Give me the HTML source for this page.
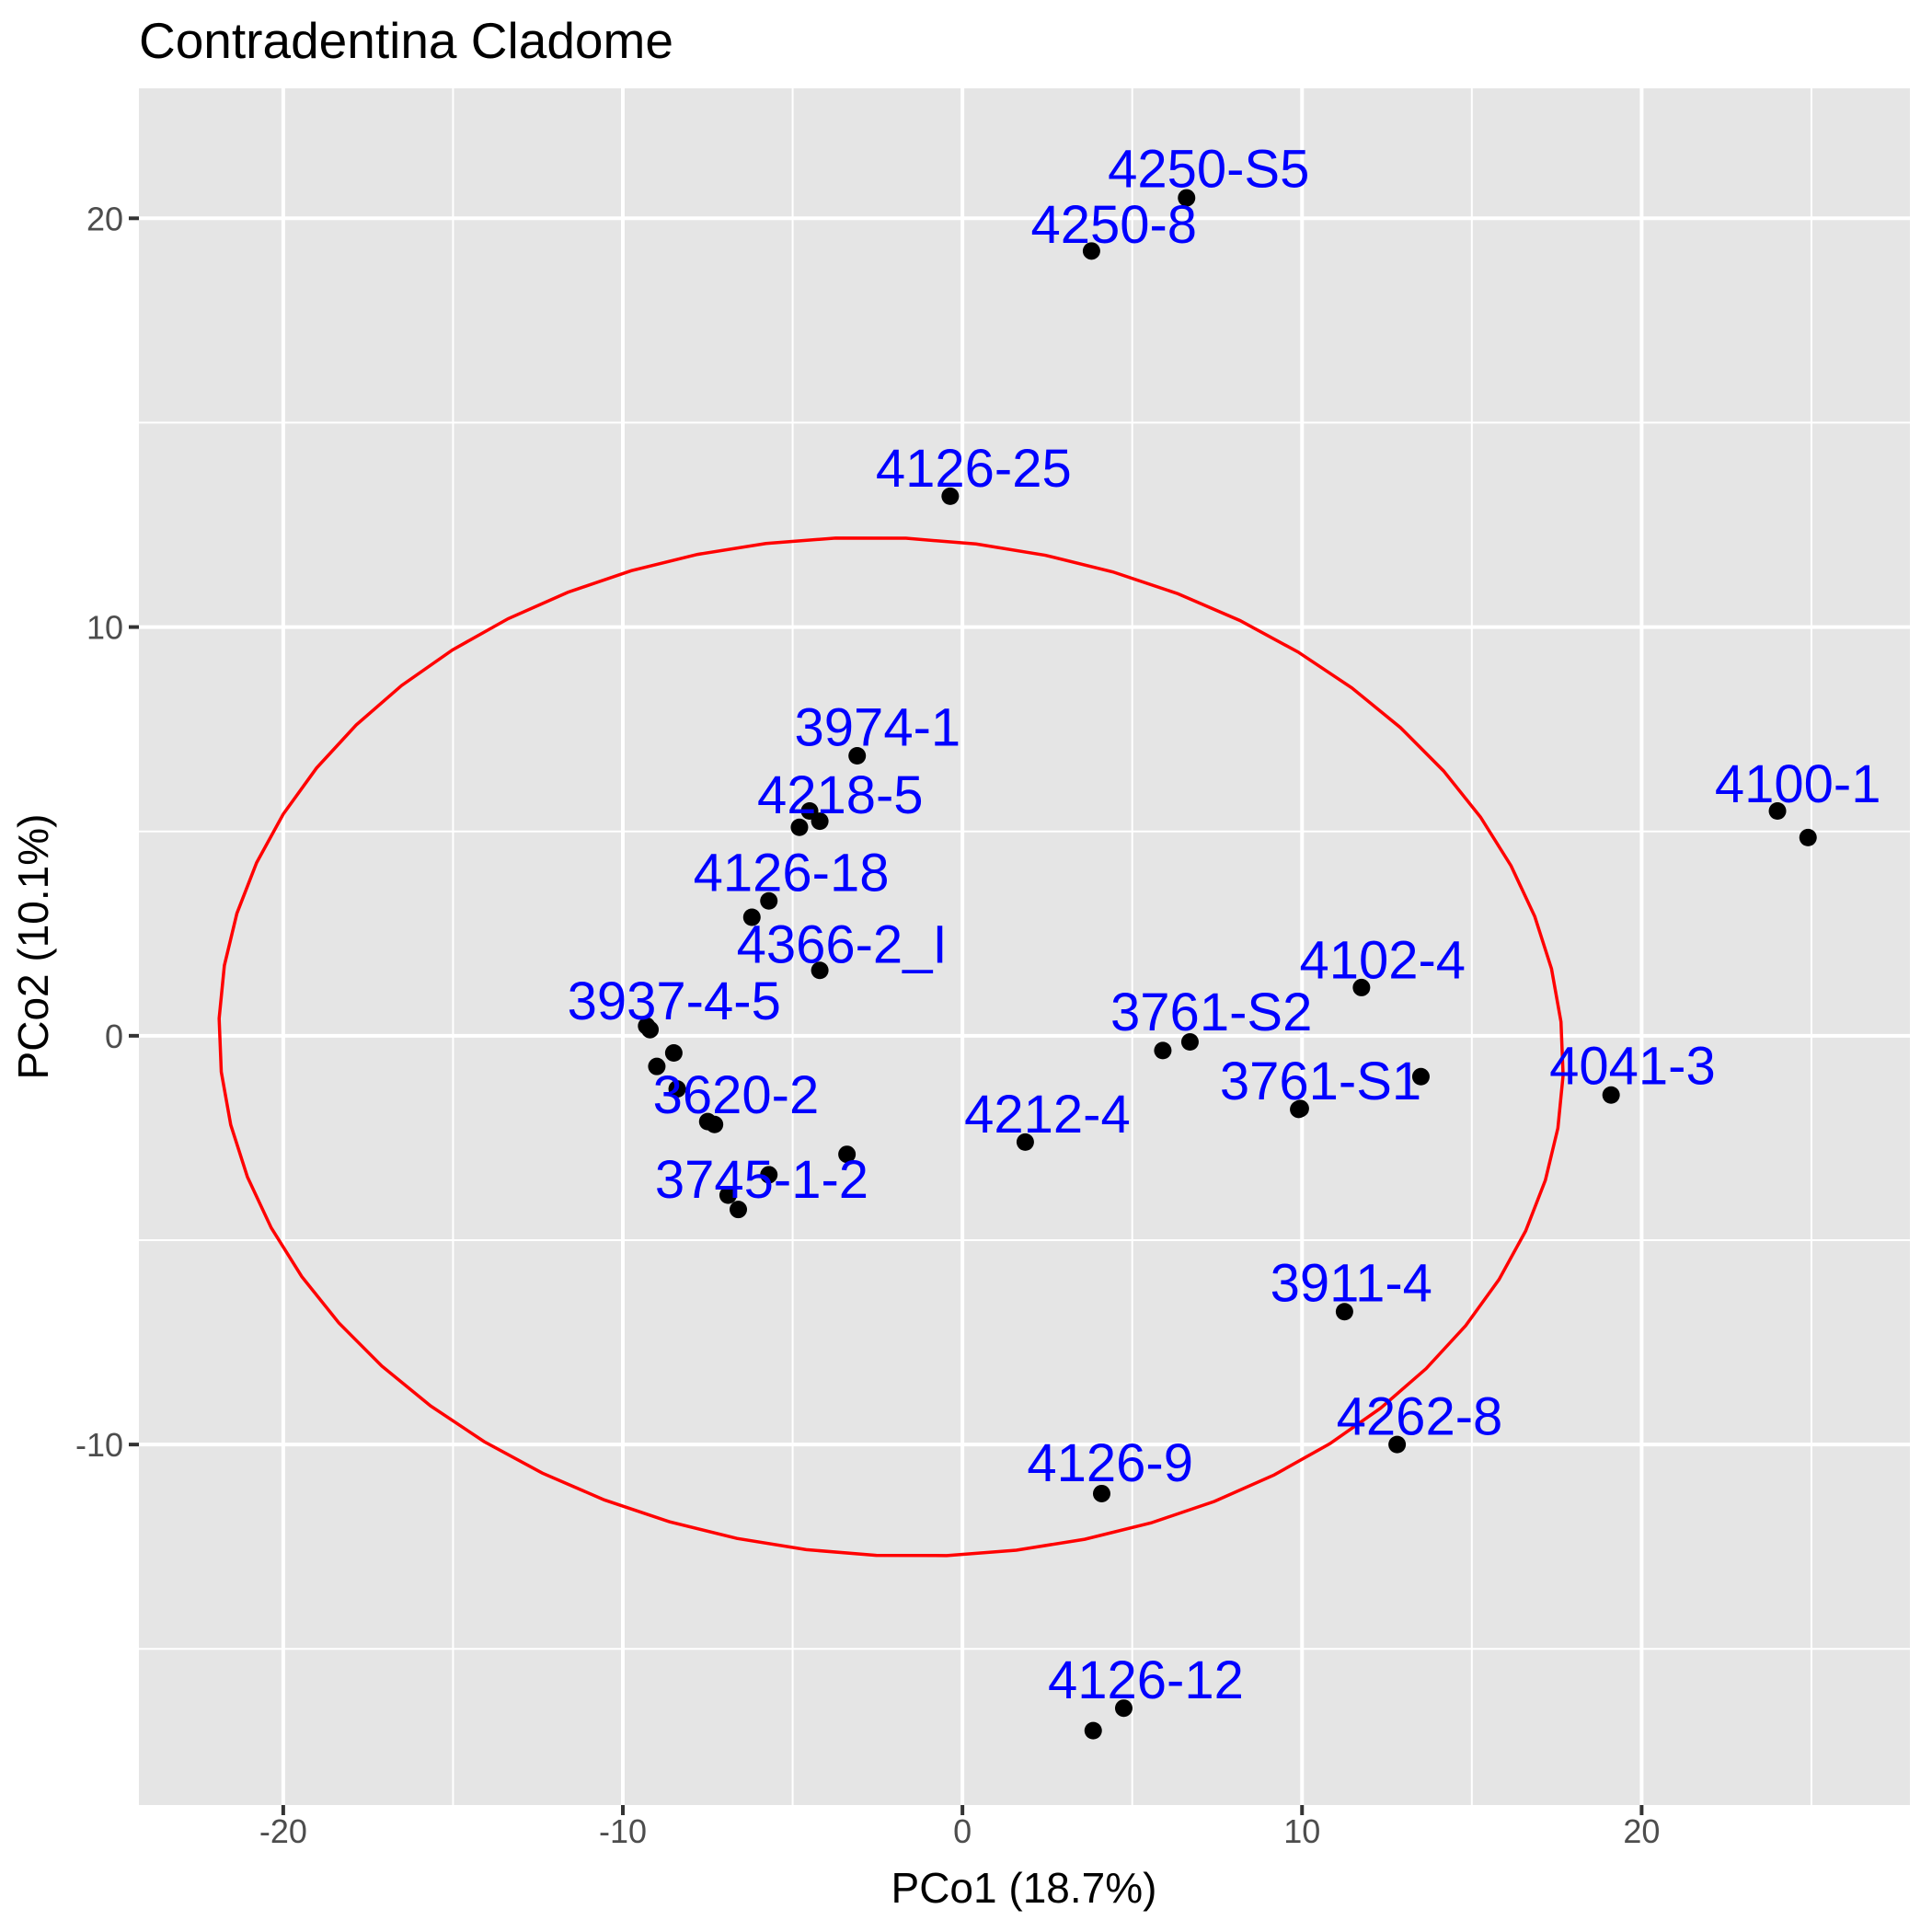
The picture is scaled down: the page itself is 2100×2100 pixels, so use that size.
<!DOCTYPE html>
<html><head><meta charset="utf-8"><style>
html,body{margin:0;padding:0;background:#fff}
svg{display:block;font-family:"Liberation Sans",Arial,sans-serif}
</style></head><body>
<svg id="chart" width="2100" height="2100" viewBox="0 0 2100 2100">
<text x="151" y="63" font-size="55" fill="#000">Contradentina Cladome</text>
<rect x="151" y="96" width="1925" height="1866" fill="#e5e5e5"/>
<g id="grid"></g>
<g id="ellipse"></g>
<g id="points"></g>
<g id="labels"></g>
<g id="axes"></g>
<text x="1113" y="2068" font-size="46" text-anchor="middle" fill="#000">PCo1 (18.7%)</text>
<text transform="translate(52,1029) rotate(-90)" font-size="46" text-anchor="middle" fill="#000">PCo2 (10.1%)</text>
</svg>
<script>
const xTicks = [-20, -10, 0, 10, 20];
const xMinor = [-15, -5, 5, 15, 25];
const yTicks = [-10, 0, 10, 20];
const yMinor = [-15, -5, 5, 15];
const ptX = [6.6, 3.8, -0.36, -3.1, -4.5, -4.8, -4.2, -5.7, -6.2, -4.2, -9.3, -9.2, -8.5, -9.0, -8.4, -7.5, -7.3, -3.4, -5.7, -6.9, -6.6, 1.85, 5.9, 6.7, 9.9, 9.95, 13.5, 11.75, 19.1, 24.0, 24.9, 11.25, 12.8, 4.1, 4.75, 3.85];
const ptY = [20.5, 19.2, 13.2, 6.85, 5.5, 5.1, 5.25, 3.3, 2.9, 1.6, 0.24, 0.15, -0.42, -0.75, -1.3, -2.1, -2.17, -2.9, -3.4, -3.9, -4.25, -2.6, -0.36, -0.15, -1.8, -1.78, -1.0, 1.18, -1.45, 5.5, 4.85, -6.75, -10.0, -11.2, -16.45, -17.0];
const labText = ["4250-S5","4250-8","4126-25","3974-1","4218-5","4126-18","4366-2_I","3937-4-5","3620-2","3745-1-2","4212-4","3761-S2","3761-S1","4102-4","4041-3","4100-1","3911-4","4262-8","4126-9","4126-12"];
const labX = [7.25, 4.46, 0.33, -2.5, -3.6, -5.04, -3.55, -8.49, -6.67, -5.91, 2.5, 7.33, 10.55, 12.37, 19.73, 24.6, 11.45, 13.46, 4.35, 5.4];
const labY = [21.2, 19.84, 13.87, 7.54, 5.88, 3.98, 2.23, 0.84, -1.45, -3.53, -1.93, 0.57, -1.12, 1.84, -0.75, 6.15, -6.06, -9.32, -10.46, -15.77];
const ellCenter = [-2.1, -0.27];
const ellRadii = [19.8, 12.45];
const ellAngle = [-0.035];

const X0 = 151, X1 = 2076, Y0 = 96, Y1 = 1962;
const xDom = [-24.25, 27.9], yDom = [-18.82, 23.18];
const sx = v => X0 + (v - xDom[0]) / (xDom[1] - xDom[0]) * (X1 - X0);
const sy = v => Y1 - (v - yDom[0]) / (yDom[1] - yDom[0]) * (Y1 - Y0);
const NS = "http://www.w3.org/2000/svg";
function mk(tag, attrs, parent){const e=document.createElementNS(NS,tag);for(const k in attrs)e.setAttribute(k,attrs[k]);parent.appendChild(e);return e;}
const grid=document.getElementById('grid'), axes=document.getElementById('axes');
xMinor.forEach(v=>{const l=mk('line',{x1:sx(v),x2:sx(v),y1:Y0,y2:Y1,stroke:'#fff','stroke-width':2},grid);

});
yMinor.forEach(v=>{const l=mk('line',{x1:X0,x2:X1,y1:sy(v),y2:sy(v),stroke:'#fff','stroke-width':2},grid);

});
xTicks.forEach(v=>{const l=mk('line',{x1:sx(v),x2:sx(v),y1:Y0,y2:Y1,stroke:'#fff','stroke-width':4},grid);


const t=mk('line',{x1:sx(v),x2:sx(v),y1:Y1,y2:Y1+11,stroke:'#333','stroke-width':4},axes);


const tx=mk('text',{x:sx(v),y:2003,'font-size':36,'text-anchor':'middle',fill:'#4d4d4d'},axes);tx.textContent=v;

});
yTicks.forEach(v=>{const l=mk('line',{x1:X0,x2:X1,y1:sy(v),y2:sy(v),stroke:'#fff','stroke-width':4},grid);


const t=mk('line',{x1:X0-11,x2:X0,y1:sy(v),y2:sy(v),stroke:'#333','stroke-width':4},axes);


const tx=mk('text',{x:X0-17,y:sy(v)+13,'font-size':36,'text-anchor':'end',fill:'#4d4d4d'},axes);tx.textContent=v;

});
// ellipse
const ca=Math.cos(ellAngle[0]), sa=Math.sin(ellAngle[0]);
let pts=[];for(let i=0;i<=60;i++){const a=i/60*2*Math.PI;const ex=ellRadii[0]*Math.cos(a), ey=ellRadii[1]*Math.sin(a);
pts.push(sx(ellCenter[0]+ex*ca-ey*sa)+','+sy(ellCenter[1]+ex*sa+ey*ca));}
const el=mk('polyline',{points:pts.join(' '),fill:'none',stroke:'#ff0000','stroke-width':3.5},document.getElementById('ellipse'));


const pg=document.getElementById('points');
ptX.forEach((v,i)=>{const c=mk('circle',{cx:sx(v),cy:sy(ptY[i]),r:9.5,fill:'#000'},pg);

});
const lg=document.getElementById('labels');
labText.forEach((s,i)=>{const t=mk('text',{x:sx(labX[i]),y:sy(labY[i]),'font-size':58,'text-anchor':'middle','dominant-baseline':'central',fill:'#0000ff'},lg);t.textContent=s;

});
</script>
</body></html>
